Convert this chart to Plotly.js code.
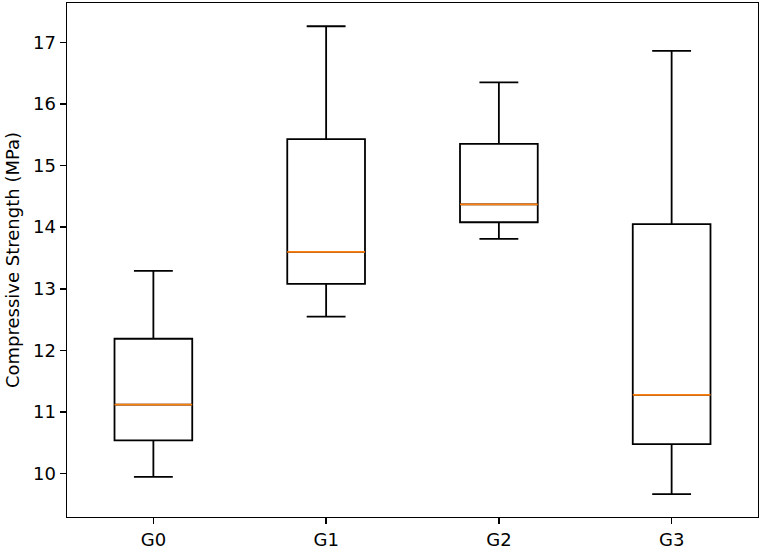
<!DOCTYPE html>
<html>
<head>
<meta charset="utf-8">
<script src="https://cdn.plot.ly/plotly-3.0.1.min.js"></script>
<style>html,body{margin:0;padding:0;background:#fff;}#chart{width:761px;height:549px;}</style>
</head>
<body>
<div id="chart"></div>
<script>
var categories = ["G0", "G1", "G2", "G3"];
var positions = [1, 2, 3, 4];
var lowerWhisker = [9.95, 12.55, 13.81, 9.67];
var q1 = [10.54, 13.08, 14.08, 10.48];
var medians = [11.12, 13.60, 14.37, 11.28];
var q3 = [12.19, 15.43, 15.35, 14.05];
var upperWhisker = [13.29, 17.26, 16.35, 16.86];
var yTicks = [10, 11, 12, 13, 14, 15, 16, 17];
var boxWidth = 0.45;

var boxTrace = {
  type: "box",
  x: positions,
  q1: q1,
  median: medians,
  q3: q3,
  lowerfence: lowerWhisker,
  upperfence: upperWhisker,
  width: boxWidth,
  whiskerwidth: 0.5,
  boxpoints: false,
  fillcolor: "rgba(0,0,0,0)",
  line: {color: "#000000", width: 1.8},
  hoverinfo: "skip",
  showlegend: false
};

var mx = [], my = [];
for (var i = 0; i < positions.length; i++) {
  mx.push(positions[i] - boxWidth / 2, positions[i] + boxWidth / 2, null);
  my.push(medians[i], medians[i], null);
}
var medianTrace = {
  type: "scatter",
  mode: "lines",
  x: mx,
  y: my,
  line: {color: "#ff7f0e", width: 1.8},
  hoverinfo: "skip",
  showlegend: false
};

var layout = {
  width: 761,
  height: 549,
  margin: {l: 67, r: 3, t: 3, b: 32},
  paper_bgcolor: "#ffffff",
  plot_bgcolor: "#ffffff",
  font: {family: "DejaVu Sans, sans-serif", size: 18, color: "#000000"},
  showlegend: false,
  xaxis: {
    range: [0.5, 4.5],
    tickmode: "array",
    tickvals: positions,
    ticktext: categories,
    showgrid: false,
    zeroline: false,
    showline: true,
    mirror: true,
    linecolor: "#000000",
    linewidth: 1.4,
    ticks: "outside",
    ticklen: 6,
    tickwidth: 1.4,
    tickcolor: "#000000",
    tickfont: {size: 18}
  },
  yaxis: {
    range: [9.298, 17.637],
    tickmode: "array",
    tickvals: yTicks,
    showgrid: false,
    zeroline: false,
    showline: true,
    mirror: true,
    linecolor: "#000000",
    linewidth: 1.4,
    ticks: "outside",
    ticklen: 6,
    tickwidth: 1.4,
    tickcolor: "#000000",
    tickfont: {size: 18},
    title: {text: "Compressive Strength (MPa)", font: {size: 18}, standoff: 8}
  }
};

Plotly.newPlot("chart", [boxTrace, medianTrace], layout, {displayModeBar: false, staticPlot: true});
</script>
</body>
</html>
